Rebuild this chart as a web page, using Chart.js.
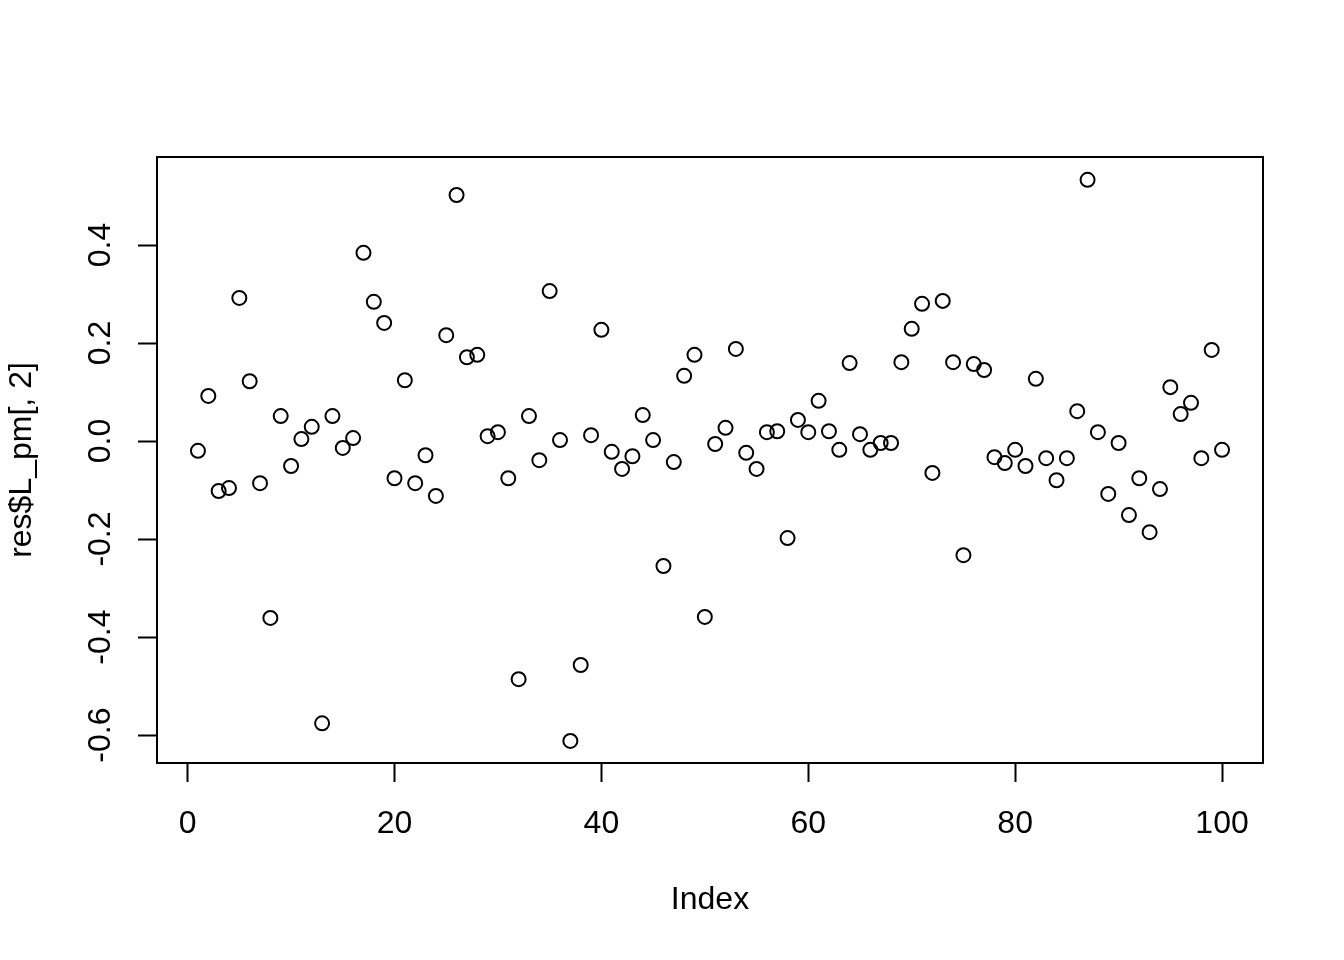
<!DOCTYPE html>
<html>
<head>
<meta charset="utf-8">
<script src="https://cdn.jsdelivr.net/npm/chart.js@4.4.1/dist/chart.umd.min.js"></script>
<style>
  html, body { margin: 0; padding: 0; background: #fff; }
  #wrap { width: 1344px; height: 960px; }
</style>
</head>
<body>
<div id="wrap"><canvas id="plot" width="1344" height="960"></canvas></div>
<script>
// values of res$L_pm[, 2], in index order 1..100
const lpm2 = [
  -0.020, 0.092, -0.102, -0.096, 0.292, 0.122, -0.086, -0.361, 0.051, -0.051,
  0.004, 0.029, -0.576, 0.051, -0.014, 0.006, 0.384, 0.284, 0.241, -0.076,
  0.124, -0.086, -0.029, -0.112, 0.216, 0.502, 0.171, 0.176, 0.010, 0.018,
  -0.076, -0.486, 0.051, -0.039, 0.306, 0.002, -0.612, -0.457, 0.012, 0.227,
  -0.022, -0.057, -0.031, 0.053, 0.002, -0.255, -0.043, 0.133, 0.176, -0.359,
  -0.006, 0.027, 0.188, -0.024, -0.057, 0.018, 0.020, -0.198, 0.043, 0.018,
  0.082, 0.020, -0.018, 0.159, 0.014, -0.018, -0.004, -0.004, 0.161, 0.229,
  0.280, -0.065, 0.286, 0.161, -0.233, 0.157, 0.145, -0.033, -0.045, -0.018,
  -0.051, 0.127, -0.035, -0.080, -0.035, 0.061, 0.533, 0.018, -0.108, -0.004,
  -0.151, -0.076, -0.186, -0.098, 0.110, 0.055, 0.078, -0.035, 0.186, -0.018
];
const xTicks = [0, 20, 40, 60, 80, 100];
const yTicks = [-0.6, -0.4, -0.2, 0.0, 0.2, 0.4];

const FONT = "'Liberation Sans', Arial, Helvetica, sans-serif";
const FSIZE = 32;

const points = lpm2.map((v, i) => ({ x: i + 1, y: v }));

// R-like box and rotated y tick labels
const rAxes = {
  id: "rAxes",
  afterDraw(chart) {
    const { ctx, chartArea: a, scales } = chart;
    ctx.save();
    ctx.strokeStyle = "#000";
    ctx.lineWidth = 2;
    ctx.strokeRect(a.left, a.top, a.right - a.left, a.bottom - a.top);

    ctx.fillStyle = "#000";
    ctx.font = `${FSIZE}px ${FONT}`;
    ctx.textAlign = "center";
    ctx.textBaseline = "alphabetic";
    yTicks.forEach(v => {
      const py = scales.y.getPixelForValue(v);
      ctx.save();
      ctx.translate(110, py);
      ctx.rotate(-Math.PI / 2);
      ctx.fillText(v.toFixed(1), 0, 0);
      ctx.restore();
    });
    ctx.restore();
  }
};

new Chart(document.getElementById("plot"), {
  type: "scatter",
  data: {
    datasets: [{
      data: points,
      pointStyle: "circle",
      pointRadius: 7,
      pointHoverRadius: 7,
      borderWidth: 2,
      borderColor: "#000",
      backgroundColor: "rgba(0,0,0,0)"
    }]
  },
  options: {
    responsive: false,
    animation: false,
    events: [],
    layout: { padding: { left: 0, right: 81, top: 157, bottom: 0 } },
    plugins: {
      legend: { display: false },
      tooltip: { enabled: false }
    },
    scales: {
      x: {
        type: "linear",
        min: -2.96,
        max: 103.96,
        afterBuildTicks: s => { s.ticks = xTicks.map(v => ({ value: v })); },
        afterFit: s => { s.height = 197; },
        border: { display: false },
        grid: {
          drawOnChartArea: false,
          drawTicks: true,
          tickLength: 19,
          tickWidth: 2,
          tickColor: "#000"
        },
        ticks: {
          color: "#000",
          padding: 23,
          maxRotation: 0,
          font: { family: FONT, size: FSIZE }
        },
        title: {
          display: true,
          text: "Index",
          color: "#000",
          font: { family: FONT, size: FSIZE },
          padding: { top: 0, bottom: 41 }
        }
      },
      y: {
        type: "linear",
        min: -0.657,
        max: 0.5796,
        afterBuildTicks: s => { s.ticks = yTicks.map(v => ({ value: v })); },
        afterFit: s => { s.width = 157; },
        border: { display: false },
        grid: {
          drawOnChartArea: false,
          drawTicks: true,
          tickLength: 19,
          tickWidth: 2,
          tickColor: "#000"
        },
        ticks: { display: false },
        title: {
          display: true,
          text: "res$L_pm[, 2]",
          color: "#000",
          font: { family: FONT, size: FSIZE },
          padding: { top: 3, bottom: 0 }
        }
      }
    }
  },
  plugins: [rAxes]
});
</script>
</body>
</html>
